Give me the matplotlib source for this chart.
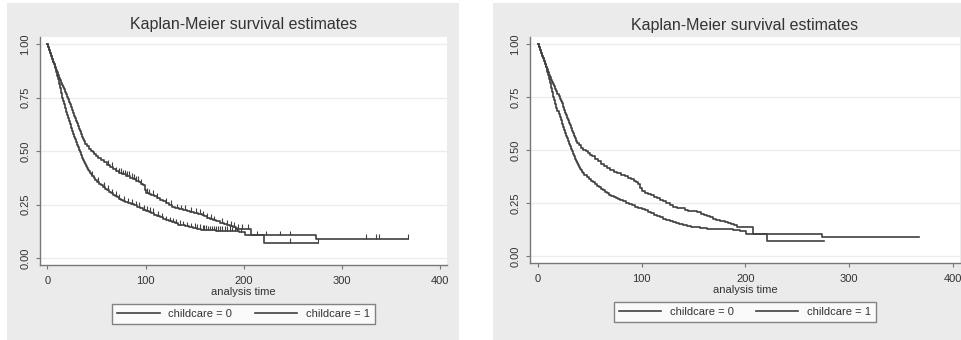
import numpy as np
import matplotlib
matplotlib.use('Agg')
import matplotlib.pyplot as plt
from matplotlib.patches import Rectangle

plt.rcParams['font.family'] = ['Liberation Sans', 'DejaVu Sans']

# survival estimates (time, S(t)), drawn as steps
t0 = [0, 1, 2, 3, 4, 5, 6, 7, 8, 9, 10, 11, 12, 13, 14, 15, 16, 17, 18, 19,
      20, 21, 22, 23, 24, 25, 26, 27, 28, 29, 30, 31, 32, 33, 34, 35, 36, 37,
      38, 39, 40, 41, 42, 43, 44, 45, 47, 49, 51, 53, 55, 57, 59, 61, 63, 65,
      67, 69, 71, 73, 75, 77, 79, 82, 85, 88, 91, 94, 97, 100, 103, 106, 109,
      112, 115, 118, 121, 124, 127, 130, 133, 136, 140, 144, 148, 152, 156,
      163, 172, 180, 188, 195, 201, 221, 276]
s0 = [1.0, 0.985, 0.97, 0.958, 0.945, 0.932, 0.918, 0.905, 0.89, 0.87, 0.852,
      0.835, 0.815, 0.793, 0.772, 0.75, 0.735, 0.718, 0.70, 0.685, 0.67, 0.655,
      0.64, 0.625, 0.61, 0.595, 0.58, 0.568, 0.555, 0.542, 0.53, 0.518, 0.505,
      0.494, 0.482, 0.47, 0.46, 0.45, 0.44, 0.43, 0.42, 0.413, 0.406, 0.399,
      0.392, 0.385, 0.375, 0.365, 0.356, 0.348, 0.34, 0.332, 0.325, 0.318,
      0.31, 0.303, 0.297, 0.29, 0.284, 0.278, 0.273, 0.268, 0.264, 0.258,
      0.252, 0.246, 0.24, 0.233, 0.227, 0.222, 0.216, 0.21, 0.203, 0.196,
      0.19, 0.183, 0.177, 0.172, 0.167, 0.162, 0.157, 0.153, 0.148, 0.144,
      0.14, 0.136, 0.132, 0.13, 0.129, 0.127, 0.125, 0.12, 0.107, 0.073, 0.073]
t1 = [0, 1, 2, 3, 4, 5, 6, 7, 8, 9, 10, 11, 12, 13, 14, 15, 16, 17, 18, 19,
      20, 21, 22, 23, 24, 25, 26, 27, 28, 29, 30, 31, 32, 33, 34, 35, 36, 37,
      38, 40, 42, 44, 46, 48, 50, 52, 55, 58, 61, 64, 67, 70, 73, 76, 80, 84,
      87, 90, 93, 95, 97, 99, 100, 103, 106, 109, 112, 115, 118, 121, 124,
      127, 130, 134, 138, 142, 145, 149, 153, 157, 160, 163, 166, 169, 172,
      176, 180, 183, 186, 189, 192, 207, 274, 367]
s1 = [1.0, 0.985, 0.97, 0.958, 0.945, 0.932, 0.918, 0.905, 0.892, 0.88,
      0.868, 0.855, 0.843, 0.832, 0.82, 0.81, 0.80, 0.79, 0.778, 0.766, 0.755,
      0.743, 0.731, 0.72, 0.705, 0.69, 0.677, 0.665, 0.653, 0.641, 0.63,
      0.617, 0.605, 0.592, 0.58, 0.568, 0.556, 0.545, 0.535, 0.522, 0.51,
      0.502, 0.494, 0.486, 0.478, 0.47, 0.458, 0.447, 0.436, 0.425, 0.415,
      0.406, 0.398, 0.392, 0.385, 0.376, 0.37, 0.362, 0.355, 0.348, 0.34,
      0.32, 0.305, 0.30, 0.295, 0.288, 0.28, 0.272, 0.265, 0.258, 0.25,
      0.241, 0.232, 0.228, 0.225, 0.219, 0.215, 0.211, 0.208, 0.20, 0.195,
      0.189, 0.183, 0.177, 0.172, 0.166, 0.16, 0.156, 0.152, 0.145, 0.138,
      0.107, 0.091, 0.091]

# censoring times (left panel only)
cens0 = [45, 52, 58, 62, 66, 70, 73, 78, 82, 86, 90, 93, 98, 101, 105, 108,
         113, 117, 121, 125, 128, 131, 135, 138, 142, 146, 150, 152, 155, 158,
         160, 162, 164, 166, 168, 170, 172, 174, 176, 178, 181, 183, 186, 188,
         191, 193, 197, 247, 276]
cens1 = [62, 66, 70, 73, 75, 77, 79, 81, 83, 86, 88, 90, 92, 95, 101, 104,
         108, 112, 121, 126, 132, 136, 140, 146, 151, 155, 158, 163, 167, 170,
         178, 183, 187, 190, 194, 198, 204, 214, 223, 237, 247, 325, 335, 338,
         367]

labels = ['childcare = 0', 'childcare = 1']
title = 'Kaplan-Meier survival estimates'
xticks = [0, 100, 200, 300, 400]
yticks = [0, 0.25, 0.5, 0.75, 1.0]

W, H = 961, 340
fig = plt.figure(figsize=(W / 100, H / 100), dpi=100)
fig.patch.set_facecolor('white')

bg = '#ebebeb'
ink = '#404040'
fig.patches.append(Rectangle((7 / W, 0), 452 / W, 337 / H, transform=fig.transFigure,
                             facecolor=bg, edgecolor='none', zorder=-10))
fig.patches.append(Rectangle((493 / W, 0), 468 / W, 337 / H, transform=fig.transFigure,
                             facecolor=bg, edgecolor='none', zorder=-10))


def s_at(ts, ss, t):
    i = np.searchsorted(ts, t, side='right') - 1
    return np.asarray(ss)[i]


def panel(rect, censored):
    ax = fig.add_axes(rect)
    ax.set_facecolor('white')
    for ts, ss, lab in [(t0, s0, labels[0]), (t1, s1, labels[1])]:
        ax.plot(ts, ss, drawstyle='steps-post', color=ink, lw=1.2, label=lab)
    if censored:
        for ts, ss, cs in [(t0, s0, cens0), (t1, s1, cens1)]:
            cy = s_at(ts, ss, cs)
            ax.vlines(cs, cy, cy + 0.022, color=ink, lw=0.8)
    ax.set_xlim(-7.5, 407)
    ax.set_ylim(-0.032, 1.033)
    ax.set_xticks(xticks)
    ax.set_yticks(yticks)
    ax.set_yticklabels(['%.2f' % v for v in yticks], rotation=90, va='center')
    ax.grid(axis='y', color='#ececec', lw=1.0)
    ax.set_axisbelow(True)
    for sp in ['top', 'right']:
        ax.spines[sp].set_visible(False)
    for sp in ['left', 'bottom']:
        ax.spines[sp].set_color('#777777')
        ax.spines[sp].set_linewidth(1.0)
    ax.tick_params(colors='#777777', labelcolor='#333333', labelsize=8,
                   length=3, width=0.8)
    ax.tick_params(axis='x', pad=5)
    ax.tick_params(axis='y', pad=4)
    ax.set_xlabel('analysis time', fontsize=8, color='#333333')
    ax.xaxis.set_label_coords(0.5, -0.118)
    ax.xaxis.label.set_va('center')
    ax.text(0.5, 1.053, title, transform=ax.transAxes, ha='center', va='center',
            fontsize=11.5, color='#333333')
    leg = ax.legend(loc='center', bbox_to_anchor=(0.5, -0.215), ncol=2,
                    fontsize=8, frameon=True, fancybox=False, handlelength=3.8,
                    columnspacing=2.0, borderpad=0.45, handletextpad=0.8)
    leg.get_frame().set_edgecolor('#666666')
    leg.get_frame().set_linewidth(1.0)
    for t in leg.get_texts():
        t.set_color('#333333')
    return ax


panel([40 / W, 75 / H, 407 / W, 228 / H], True)
panel([530 / W, 77 / H, 430 / W, 226 / H], False)

fig.savefig('out.png', dpi=100, facecolor='white')
